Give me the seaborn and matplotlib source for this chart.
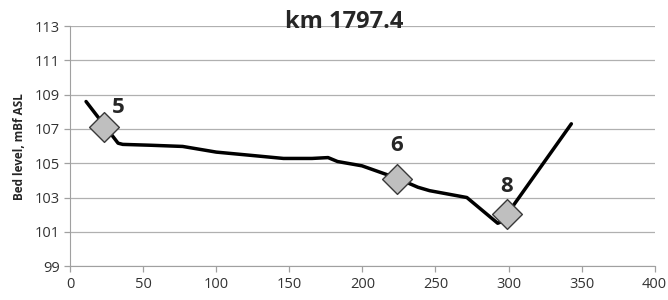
import matplotlib
matplotlib.use("Agg")
import matplotlib.pyplot as plt
import seaborn as sns
import pandas as pd

# bed profile at km 1797.4
dist = [10.9, 32.8, 36, 55, 77, 100, 125, 146, 165.5, 176.5, 183, 199.7, 223.6, 238, 246, 271.5, 292.6, 295.5, 343]
level = [108.6, 106.17, 106.1, 106.05, 105.98, 105.65, 105.45, 105.28, 105.28, 105.33, 105.1, 104.85, 104.13, 103.6, 103.4, 103.0, 101.5, 101.6, 107.3]

# numbered points
pt_x = [23.2, 223.6, 298.8]
pt_y = [107.1, 104.1, 102.05]
pt_lab = ["5", "6", "8"]

profile = pd.DataFrame({"dist": dist, "level": level})
pts = pd.DataFrame({"x": pt_x, "y": pt_y, "lab": pt_lab})

sns.set_style("white")
plt.rcParams["font.family"] = ["Open Sans", "DejaVu Sans"]

fig = plt.figure(figsize=(6.68, 3.0), dpi=100)
ax = fig.add_axes([0.105, 0.113, 0.875, 0.8])

sns.lineplot(data=profile, x="dist", y="level", sort=False, color="black",
             linewidth=2.5, ax=ax, zorder=3)
sns.scatterplot(data=pts, x="x", y="y", marker="D", s=230, color="#bfbfbf",
                edgecolor="#3a3a3a", linewidth=1, ax=ax, zorder=4)
# label offsets in points
offs = {"5": (10, 14), "6": (0, 24), "8": (0, 20)}
for x, y, t in zip(pt_x, pt_y, pt_lab):
    ax.annotate(t, (x, y), xytext=offs[t], textcoords="offset points",
                ha="center", va="center", fontsize=16, fontweight="bold")

ax.set_xlim(0, 400)
ax.set_ylim(99, 113)
ax.set_xticks(range(0, 401, 50))
ax.set_yticks(range(99, 114, 2))
ax.grid(axis="y", color="#b0b0b0", linewidth=0.9)
ax.set_axisbelow(True)
for s in ["top", "right"]:
    ax.spines[s].set_visible(False)
for s in ["left", "bottom"]:
    ax.spines[s].set_color("#a0a0a0")
ax.tick_params(axis="both", length=4, width=0.9, color="#a0a0a0",
               labelsize=10.5, labelcolor="#333333", direction="out")
ax.tick_params(axis="both", bottom=True, left=True)
ax.set_xlabel("")
ax.set_ylabel("Bed level, mBf ASL", fontsize=8.5, fontweight="bold", labelpad=6)
fig.suptitle("km 1797.4", x=0.515, y=0.965, fontsize=17, fontweight="bold")

fig.savefig("out.png", dpi=100)
